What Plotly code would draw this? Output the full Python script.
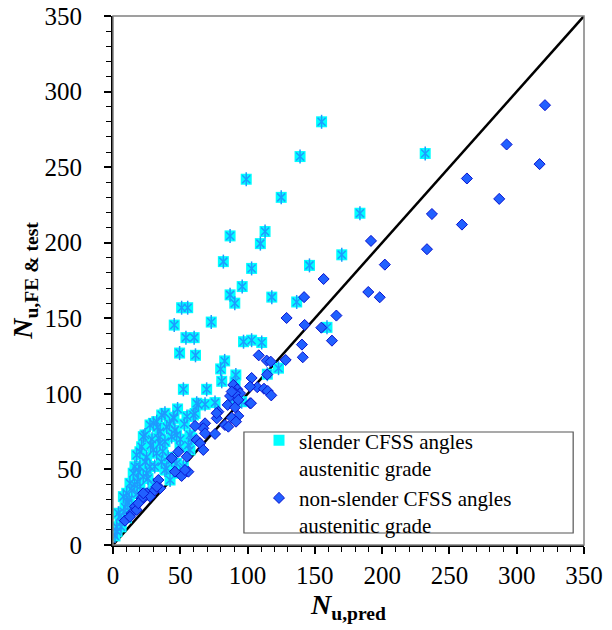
import plotly.graph_objects as go

# ---- data ----
slender_x = [155, 139, 99, 125, 87, 113, 109.5, 82, 103, 146, 96, 87, 118, 90.5, 51, 55.5,
             45.5, 73, 54.2, 60.3, 49.5, 61.3, 97, 103, 110.5, 136.5, 159, 232, 183.5, 170,
             83, 80, 91.3, 123, 114.7, 80.8, 90.7, 69.6, 52.3, 62.2, 68.4, 75.8, 89.4, 95.6,
             63.4, 59.7,
             38.6, 45.3, 32.5, 27.5, 43.6, 23.8, 21.3, 34.9, 32.5, 17.6, 20, 15, 12.6, 7.7,
             4, 2.7, 47.3, 57.2, 57.2, 61, 27.5, 38.6, 22.5, 30, 42.4, 49.8, 36.2, 44.8, 30,
             22.5, 33.7, 38.6, 47.3, 49.8, 20, 30, 43.6, 56, 58.5, 52.2, 39.9, 16.3, 25, 20,
             10.2, 5.2, 1.5, 3, 6, 9, 11, 14, 18, 25, 35, 28, 40, 53, 48, 41, 26, 36,
             8, 12, 16, 19, 24, 29, 33, 37, 42, 46, 50, 55, 26, 31, 14, 10, 6, 18]
slender_y = [280, 257, 242, 230, 204.5, 207.4, 199.4, 187.5, 183, 185, 171, 165.5, 164, 160, 157, 157,
             145.5, 147.5, 137.2, 137.2, 127, 125.5, 134.5, 135.5, 134, 160.8, 144, 259, 219.5, 192,
             121.8, 116.5, 112.5, 117, 113, 108.3, 108, 103, 103, 93.8, 93.1, 94.2, 96, 94.8,
             92.7, 86,
             87.1, 83.8, 81.6, 79.4, 71.7, 72.8, 65, 67.3, 60.7, 59.6, 51.8, 47.5, 40.8, 32,
             21, 12, 54, 62.9, 72.8, 87, 51.8, 49.6, 45.2, 39.7, 43, 47.5, 86, 84.5, 80.5,
             71.7, 70.6, 68.4, 72.8, 65, 61.7, 62.9, 56.3, 66.2, 70.6, 51.8, 50.8, 51.8, 47.5, 38.6,
             34.2, 18.7, 6, 9, 15, 25, 28, 36, 42, 58, 75, 66, 78, 80, 90, 58, 34, 55,
             22, 30, 40, 48, 55, 70, 78, 62, 80, 76, 70, 85, 44, 52, 26, 18, 12, 34]

nonslender_x = [321, 292.5, 317, 263, 287, 237, 259.3, 233.3, 191.7, 202, 189.7, 198.2, 166, 162.7,
                156.5, 142, 129, 142.4, 154.8, 140.4, 141, 108.3, 114.2, 117.2, 128.3, 103, 114.6,
                107.2, 112.2, 115, 117.6, 101.8, 89.4, 92.4, 94.4, 87, 85.2, 90.7, 93.1, 88.2,
                78.3, 77.1, 83.2, 68.4, 67.1, 61, 62.2, 54.8, 48.5, 43.6, 46, 56, 51, 33.7, 35,
                30, 25, 22.5, 27.5, 20, 16.3, 13.9, 8.9, 17.6, 64.7, 68.4, 67.1, 77, 85.7, 91.4,
                90.7, 93.1, 88.2, 75.8, 101.8, 102.5, 53.5, 32.5, 21.3, 18.8, 12.6, 22.5]
nonslender_y = [291, 265, 252, 242.5, 229, 219, 212, 195.7, 201.2, 185.5, 167.4, 163.9, 151.8, 135.2,
                176, 164, 150.2, 145.6, 143.8, 132.6, 124.2, 125.5, 122, 121.3, 122.4, 110.5, 112.8,
                104.4, 103.4, 101.9, 99, 93.8, 105.9, 103, 100.4, 98.6, 92.7, 91.1, 85.4, 84.2,
                88.2, 83.8, 79.4, 80.5, 77.2, 78.8, 69.5, 58.4, 61.7, 57.4, 48.5, 48.5, 45.7, 43, 37.5,
                35.3, 34.2, 30.9, 32, 28.7, 25.3, 21, 16.1, 23.2, 67.3, 73.9, 62.9, 87.2, 78.3, 81.6,
                100.4, 96, 101.5, 73.5, 104.8, 93.8, 49.6, 38.6, 30.9, 27.6, 18.7, 34.2]

line_x = [0, 350]
line_y = [0, 350]

tick_vals = [0, 50, 100, 150, 200, 250, 300, 350]
tick_text = ["0", "50", "100", "150", "200", "250", "300", "350"]

FONT = "Liberation Serif"
STAR = "#1E9BFF"

fig = go.Figure()
fig.add_trace(go.Scatter(x=line_x, y=line_y, mode="lines",
                         line=dict(color="black", width=2.5),
                         showlegend=False, hoverinfo="skip"))
fig.add_trace(go.Scatter(x=slender_x, y=slender_y, mode="markers",
                         name="slender CFSS angles<br>austenitic grade",
                         marker=dict(symbol="square", size=11, color="#00FFFF",
                                     line=dict(width=0))))
fig.add_trace(go.Scatter(x=slender_x, y=slender_y, mode="markers", showlegend=False,
                         hoverinfo="skip",
                         marker=dict(symbol="x-thin-open", size=8, color=STAR,
                                     line=dict(color=STAR, width=1.5))))
fig.add_trace(go.Scatter(x=slender_x, y=slender_y, mode="markers", showlegend=False,
                         hoverinfo="skip",
                         marker=dict(symbol="line-ns-open", size=10, color=STAR,
                                     line=dict(color=STAR, width=1.5))))
fig.add_trace(go.Scatter(x=nonslender_x, y=nonslender_y, mode="markers",
                         name="non-slender CFSS angles<br>austenitic grade",
                         marker=dict(symbol="diamond", size=8.5, color="#2160FF",
                                     line=dict(color="#0A14D0", width=1))))

axis_common = dict(range=[0, 350], tickmode="array", tickvals=tick_vals, ticktext=tick_text,
                   showgrid=False, zeroline=False, showline=True, linecolor="black",
                   linewidth=2, ticks="outside", ticklen=7, tickwidth=1.5, tickcolor="black",
                   tickfont=dict(family=FONT, size=25, color="black"),
                   minor=dict(dtick=10, tick0=0, ticks="outside", ticklen=5, tickwidth=1.2,
                              tickcolor="black"),
                   mirror=False, automargin=False, ticklabeloverflow="allow")

fig.update_layout(
    width=612, height=630,
    margin=dict(l=113, r=28, t=16, b=85),
    paper_bgcolor="white", plot_bgcolor="rgba(0,0,0,0)",
    font=dict(family=FONT, color="black"),
    xaxis=dict(**axis_common,
               title=dict(text="<b><i>N</i></b><sub><b>u,pred</b></sub>",
                          font=dict(family=FONT, size=28), standoff=6)),
    yaxis=dict(**axis_common, ticklabelstandoff=17,
               title=dict(text="<b><i>N</i></b><sub><b>u,FE &amp; test</b></sub>",
                          font=dict(family=FONT, size=28), standoff=4)),
    xaxis2=dict(overlaying="x", anchor="y", range=[0, 350], tickmode="array",
                tickvals=tick_vals, showticklabels=False, ticks="inside", ticklen=8,
                tickwidth=1.5, tickcolor="black", showgrid=False, zeroline=False,
                showline=False),
    yaxis2=dict(overlaying="y", anchor="x", range=[0, 350], tickmode="array",
                tickvals=tick_vals, showticklabels=False, ticks="inside", ticklen=8,
                tickwidth=1.5, tickcolor="black", showgrid=False, zeroline=False,
                showline=False),
    legend=dict(x=0.31, y=0.236, xanchor="left", yanchor="top", valign="top",
                bgcolor="rgba(255,255,255,0)", borderwidth=0,
                font=dict(family=FONT, size=21, color="black"), tracegroupgap=0),
    shapes=[
        dict(type="rect", xref="paper", yref="paper", x0=0, y0=0, x1=1, y1=1,
             line=dict(color="#808080", width=1.5), layer="above"),
        dict(type="rect", xref="paper", yref="paper", x0=0.278, y0=0.0227, x1=0.977, y1=0.2136,
             line=dict(color="#555555", width=1.2), layer="below"),
    ],
)

fig.write_html("out.html", config={"displayModeBar": False},
               post_script="document.body.style.margin='0px';document.body.style.padding='0px';")
